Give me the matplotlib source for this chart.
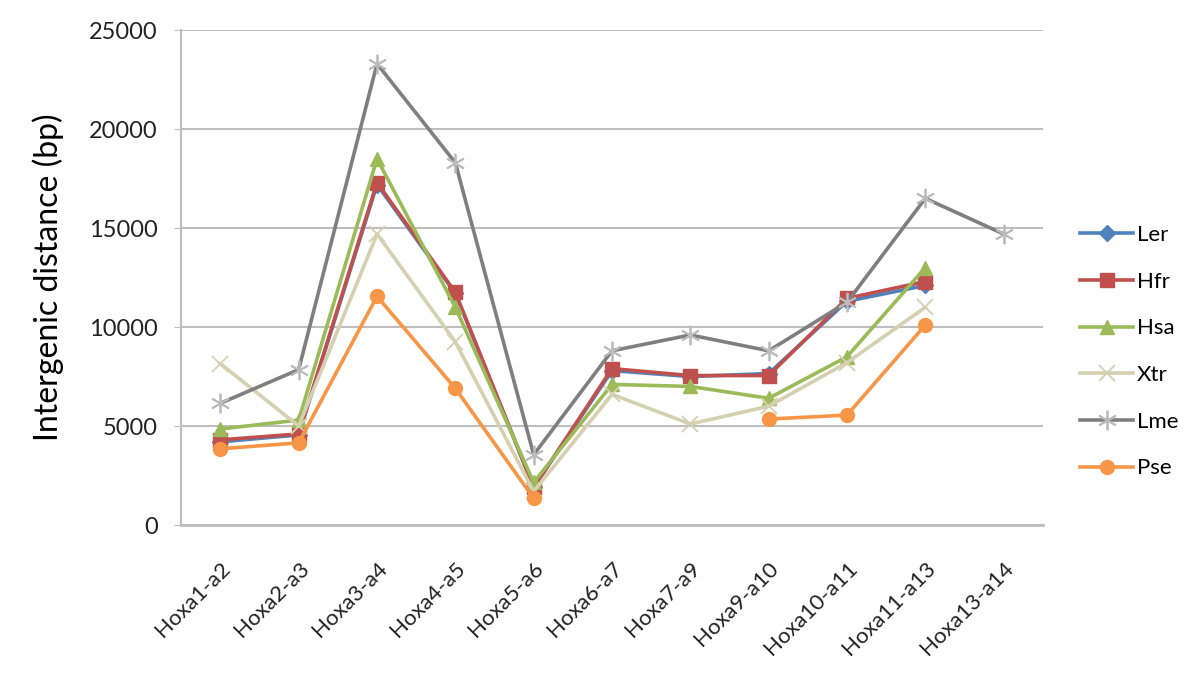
import numpy as np
import matplotlib
matplotlib.use("Agg")
import matplotlib.pyplot as plt

categories = ["Hoxa1-a2", "Hoxa2-a3", "Hoxa3-a4", "Hoxa4-a5", "Hoxa5-a6", "Hoxa6-a7",
              "Hoxa7-a9", "Hoxa9-a10", "Hoxa10-a11", "Hoxa11-a13", "Hoxa13-a14"]
nan = np.nan
ler = [4200, 4550, 17200, 11700, 1900, 7800, 7500, 7650, 11300, 12100, nan]
hfr = [4300, 4600, 17300, 11750, 1900, 7900, 7550, 7550, 11450, 12300, nan]
hsa = [4850, 5300, 18500, 11000, 2150, 7100, 7000, 6400, 8500, 13000, nan]
xtr = [8150, 5000, 14700, 9250, 1700, 6600, 5100, 6000, 8200, 11000, nan]
lme = [6150, 7850, 23300, 18300, 3550, 8800, 9600, 8800, 11250, 16500, 14700]
pse = [3850, 4150, 11550, 6900, 1350, nan, nan, 5350, 5550, 10100, nan]

series = [
    ("Ler", ler, "#4F81BD", "D", 8),
    ("Hfr", hfr, "#C0504D", "s", 10),
    ("Hsa", hsa, "#9BBB59", "^", 10),
    ("Xtr", xtr, "#D4D0B0", "x", 11),
    ("Lme", lme, "#7F7F7F", (6, 2, 0), 14),
    ("Pse", pse, "#F79646", "o", 10),
]

plt.rcParams['font.family'] = ['Lato', 'DejaVu Sans']
fig = plt.figure(figsize=(12, 7), dpi=100)
ax = fig.add_axes([0.151, 0.25, 0.718, 0.707])
x = np.arange(len(categories))
for name, vals, col, mk, ms in series:
    if name in ("Xtr", "Lme"):
        ax.plot(x, vals, color=col, lw=2.6, marker=mk, ms=ms, mew=1.3,
                mec="#BBBBBB" if name == "Lme" else col, label=name, zorder=3)
    else:
        ax.plot(x, vals, color=col, lw=2.6, marker=mk, ms=ms, mec=col, label=name, zorder=3)

ax.set_xlim(-0.5, len(categories) - 0.5)
ax.set_ylim(0, 25000)
ax.set_yticks(np.arange(0, 25001, 5000))
ax.yaxis.grid(True, color="#BEBEBE", lw=1.5)
ax.set_axisbelow(True)
for s in ["top", "right"]:
    ax.spines[s].set_visible(False)
ax.spines["left"].set_color("#BEBEBE")
ax.spines["left"].set_linewidth(1.5)
ax.spines["bottom"].set_color("#BEBEBE")
ax.spines["bottom"].set_linewidth(2)
ax.tick_params(axis="y", length=5, color="#BEBEBE", labelsize=17, pad=12, labelcolor="#222222")
ax.tick_params(axis="x", length=0, labelsize=16, pad=24, labelcolor="#222222")
ax.set_xticks(x)
ax.set_xticklabels(categories, rotation=45, ha="right", rotation_mode="anchor")
ax.set_ylabel("Intergenic distance (bp)", fontsize=23, labelpad=18)

leg = ax.legend(loc="center left", bbox_to_anchor=(1.02, 0.35), frameon=False,
                fontsize=16, labelspacing=1.2, handlelength=2.4, handletextpad=0.15)
fig.savefig("out.png", dpi=100)
